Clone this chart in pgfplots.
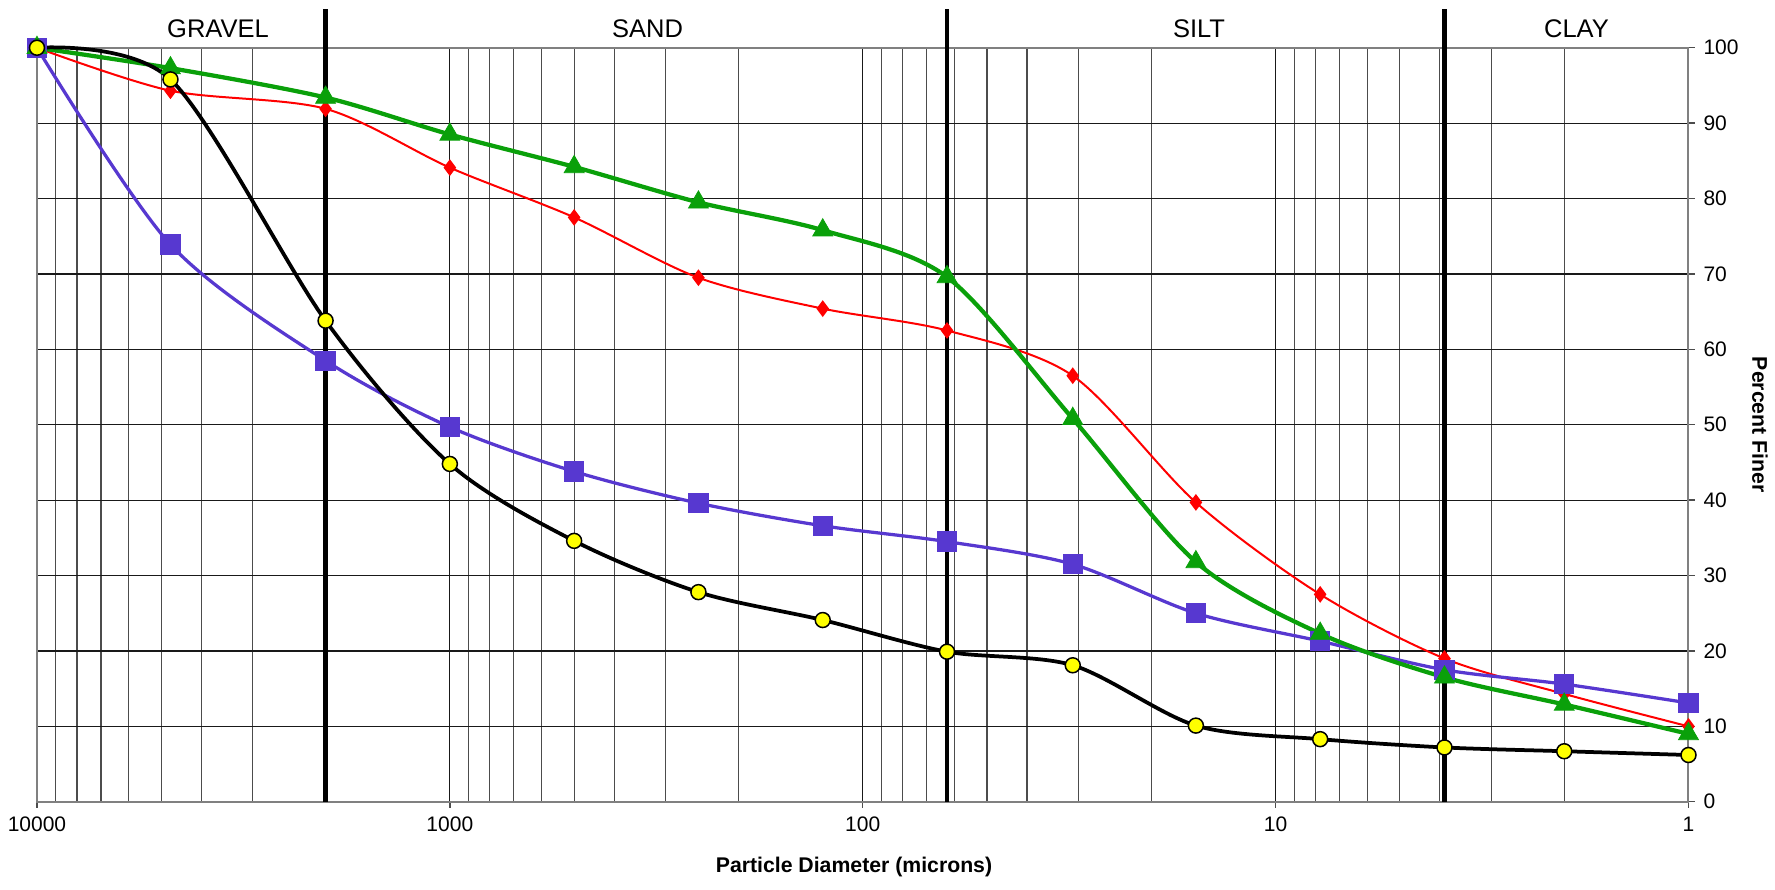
\documentclass[border=0pt]{standalone}
\usepackage{pgfplots}
\pgfplotsset{compat=1.18}
\usepackage{fontspec}
\setmainfont{Liberation Sans}

\definecolor{sieveblue}{RGB}{87,56,208}
\definecolor{sievegreen}{RGB}{10,160,10}
\definecolor{sievered}{RGB}{255,0,0}
\definecolor{sieveyellow}{RGB}{255,255,0}

\begin{document}
\begin{tikzpicture}
\begin{axis}[
    at={(0,0)}, anchor=south west,
    scale only axis,
    width=660.6pt, height=301.6pt,
    xmode=log, x dir=reverse,
    xmin=1, xmax=10000,
    ymin=0, ymax=100,
    clip=false,
    xtick={1,10,100,1000,10000},
    xticklabels={1,10,100,1000,10000},
    minor xtick={2,3,4,5,6,7,8,9,20,30,40,50,60,70,80,90,200,300,400,500,600,700,800,900,2000,3000,4000,5000,6000,7000,8000,9000},
    ytick={0,10,...,100},
    xtick pos=bottom,
    ytick pos=right,
    yticklabel pos=right,
    tick align=outside,
    major tick length=2.5pt,
    minor tick length=0pt,
    xmajorgrids=true, xminorgrids=true, ymajorgrids=true,
    major grid style={black!90, line width=0.45pt},
    minor grid style={black!70, line width=0.45pt},
    axis line style={black!50, line width=0.8pt},
    major tick style={black!70, line width=0.6pt},
    /pgf/number format/assume math mode=true,
    tick label style={font=\fontsize{8.4}{10}\selectfont},
    yticklabel style={anchor=west},
    smooth, tension=0.5,
]
% red series
\addplot[sievered, line width=0.8pt, mark=diamond*, mark size=2.7pt, mark options={fill=sievered}] coordinates {
    (10000,100) (4750,94.3) (2000,91.9) (1000,84.1) (500,77.5) (250,69.5) (125,65.4)
    (62.5,62.5) (31,56.5) (15.6,39.7) (7.8,27.5) (3.9,19.0) (2,14.3) (1,10.0)
};
% blue series
\addplot[sieveblue, line width=1.3pt, mark=square*, mark size=3.4pt, mark options={fill=sieveblue}] coordinates {
    (10000,100) (4750,73.9) (2000,58.5) (1000,49.7) (500,43.8) (250,39.6) (125,36.6)
    (62.5,34.5) (31,31.5) (15.6,25.0) (7.8,21.3) (3.9,17.5) (2,15.6) (1,13.1)
};
% green series
\addplot[sievegreen, line width=1.7pt, mark=triangle*, mark size=4.6pt, mark options={fill=sievegreen, line width=0.3pt}] coordinates {
    (10000,100) (4750,97.3) (2000,93.4) (1000,88.5) (500,84.2) (250,79.5) (125,75.8)
    (62.5,69.6) (31,50.8) (15.6,31.8) (7.8,22.3) (3.9,16.5) (2,12.9) (1,9.0)
};
% black series
\addplot[black, line width=1.5pt, mark=*, mark size=3pt, mark options={fill=sieveyellow, draw=black, line width=0.6pt}] coordinates {
    (10000,100) (4750,95.8) (2000,63.8) (1000,44.8) (500,34.6) (250,27.8) (125,24.1)
    (62.5,19.9) (31,18.1) (15.6,10.1) (7.8,8.3) (3.9,7.2) (2,6.7) (1,6.2)
};
% class boundaries
\addplot[black, line width=1.8pt, sharp plot, no marks] coordinates {(2000,0) (2000,105.2)};
\addplot[black, line width=1.8pt, sharp plot, no marks] coordinates {(62.5,0) (62.5,105.2)};
\addplot[black, line width=1.8pt, sharp plot, no marks] coordinates {(3.9,0) (3.9,105.2)};
\end{axis}
% class names
\node[font=\fontsize{10.2}{12}\selectfont] at (72.4pt,309.2pt) {GRAVEL};
\node[font=\fontsize{10.2}{12}\selectfont] at (244.2pt,309.2pt) {SAND};
\node[font=\fontsize{10.2}{12}\selectfont] at (464.8pt,309.2pt) {SILT};
\node[font=\fontsize{10.2}{12}\selectfont] at (615.8pt,309.2pt) {CLAY};
% axis titles
\node[font=\bfseries\fontsize{8.5}{10}\selectfont] at (326.8pt,-26pt) {Particle Diameter (microns)};
\node[font=\bfseries\fontsize{8.5}{10}\selectfont, rotate=-90] at (689.2pt,150.8pt) {Percent Finer};
\pgfresetboundingbox
\path[use as bounding box] (-14.8pt,-35.3pt) rectangle (695.2pt,320.7pt);
\end{tikzpicture}
\end{document}
